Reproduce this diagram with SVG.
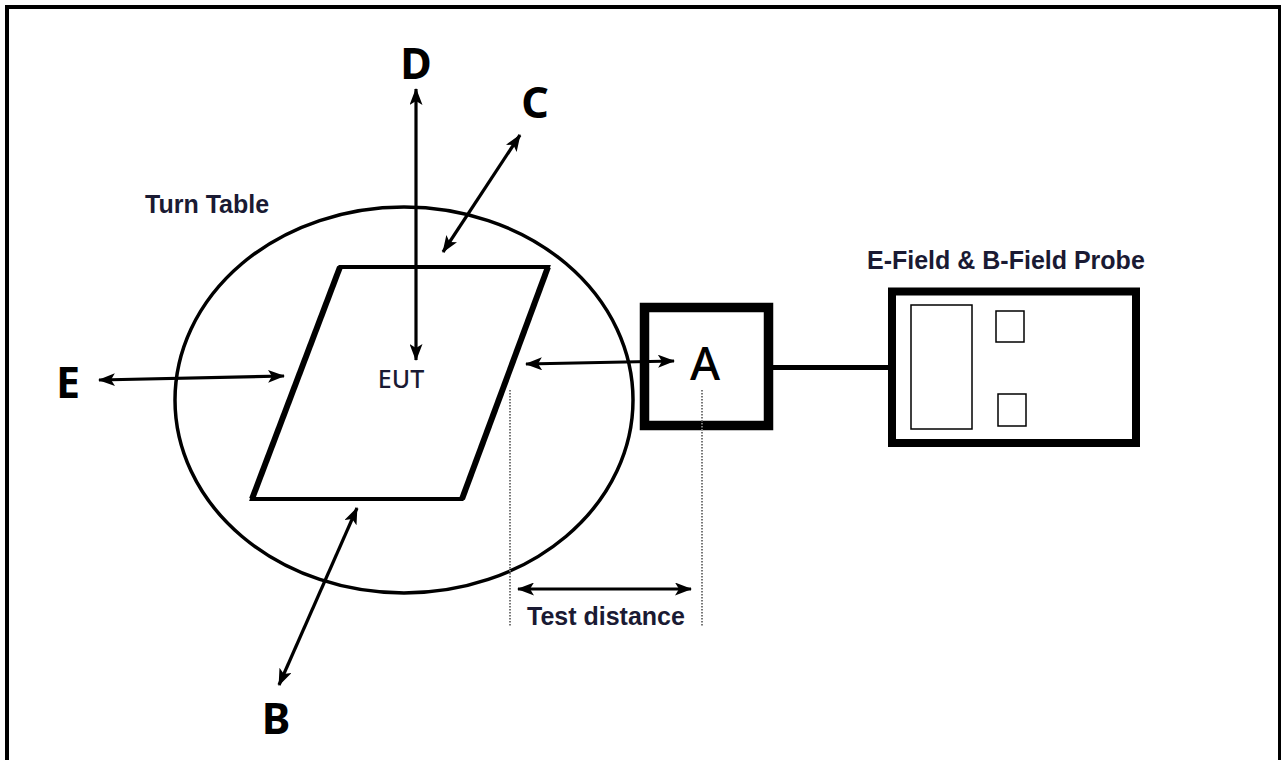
<svg xmlns="http://www.w3.org/2000/svg" width="1281" height="760" viewBox="0 0 1281 760">
  <defs>
    <marker id="ah" markerUnits="userSpaceOnUse" viewBox="0 0 17 13" refX="16" refY="6.5" markerWidth="17" markerHeight="13" orient="auto-start-reverse">
      <path d="M0,0 L17,6.5 L0,13 L4,6.5 z" fill="#000"/>
    </marker>
  </defs>
  <style>
    .arr { fill: none; stroke: #000; stroke-width: 3.2; marker-start: url(#ah); marker-end: url(#ah); }
    .dot { fill: none; stroke: #777; stroke-width: 2; stroke-dasharray: 1.5 1.5; }
    .lbl { font-family: "Noto Sans", "Liberation Sans", sans-serif; font-weight: bold; font-size: 43px; fill: #000; text-anchor: middle; }
    .cap { font-family: "Liberation Sans", Arial, sans-serif; font-weight: bold; font-size: 25px; fill: #1a1a33; }
  </style>
  <rect x="0" y="0" width="1281" height="760" fill="#fff"/>
  <rect id="frame" x="7" y="7" width="1273" height="820" fill="none" stroke="#000" stroke-width="4"/>

  <g id="turntable">
    <ellipse cx="404" cy="400" rx="229" ry="193" fill="none" stroke="#000" stroke-width="3.5"/>
    <text class="cap" x="145" y="213">Turn Table</text>
  </g>

  <g id="eut">
    <polygon points="340,267 548,267 462,499 252,499" fill="none" stroke="#000" stroke-width="4" stroke-linejoin="miter"/>
    <line x1="340" y1="267" x2="252" y2="499" stroke="#000" stroke-width="6"/>
    <line x1="548" y1="267" x2="462" y2="499" stroke="#000" stroke-width="6"/>
    <text x="401" y="388" font-family="'Noto Sans', 'Liberation Sans', sans-serif" font-weight="500" font-size="25" fill="#1a1a33" text-anchor="middle">EUT</text>
  </g>

  <g id="antenna-a">
    <rect x="644.5" y="307.5" width="124" height="118" fill="none" stroke="#000" stroke-width="9.5"/>
    <text x="705" y="380" font-family="'Noto Sans', 'Liberation Sans', sans-serif" font-weight="500" font-size="46" fill="#000" text-anchor="middle">A</text>
  </g>

  <g id="probe">
    <rect x="892" y="291.5" width="244" height="151.5" fill="none" stroke="#000" stroke-width="8"/>
    <rect x="911" y="305" width="61" height="124" fill="none" stroke="#000" stroke-width="1.5"/>
    <rect x="996" y="311" width="28" height="31" fill="none" stroke="#000" stroke-width="1.5"/>
    <rect x="998" y="394" width="28" height="32" fill="none" stroke="#000" stroke-width="1.5"/>
    <text class="cap" x="867" y="269">E-Field &amp; B-Field Probe</text>
  </g>

  <g id="labels">
    <text class="lbl" x="416" y="79">D</text>
    <text class="lbl" x="535" y="118">C</text>
    <text class="lbl" x="68" y="398">E</text>
    <text class="lbl" x="276" y="734">B</text>
    <text class="cap" x="527" y="625">Test distance</text>
  </g>

  <g id="connectors">
    <line class="arr" x1="416" y1="89" x2="416" y2="360"/>
    <line class="arr" x1="520" y1="135" x2="443" y2="252"/>
    <line class="arr" x1="99" y1="380" x2="284" y2="376"/>
    <line class="arr" x1="526" y1="364" x2="674" y2="361"/>
    <line class="arr" x1="357" y1="508" x2="279" y2="685"/>
    <line class="arr" x1="518" y1="589" x2="691" y2="589"/>
    <line x1="773" y1="367.5" x2="890" y2="367.5" stroke="#000" stroke-width="5"/>
    <line class="dot" x1="510" y1="390" x2="510" y2="626"/>
    <line class="dot" x1="702" y1="390" x2="702" y2="626"/>
  </g>
</svg>
